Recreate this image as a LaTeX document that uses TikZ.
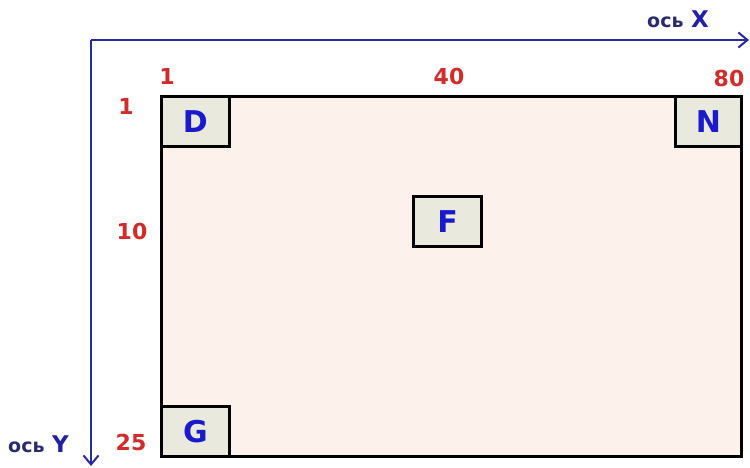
\documentclass[tikz,border=0pt]{standalone}
\usepackage{fontspec}
\setmainfont{DejaVu Sans}
\usetikzlibrary{arrows.meta}
\definecolor{axisblue}{HTML}{2A2AA0}
\definecolor{lbldark}{HTML}{2A2A70}
\definecolor{lblblue}{HTML}{2020A8}
\definecolor{lblred}{HTML}{D42A2A}
\definecolor{letblue}{HTML}{1A1ACC}
\definecolor{fieldfill}{HTML}{FDF1EC}
\definecolor{boxfill}{HTML}{E9E9DE}
\begin{document}
\begin{tikzpicture}[x=1pt,y=-1pt,
  axisline/.style={draw=axisblue,line width=2.8pt,-{Straight Barb[length=9pt,width=15pt,line width=2pt]}},
  cellbox/.style={draw=black,line width=2.8pt,fill=boxfill,inner sep=0pt,minimum width=68pt,minimum height=50pt,font=\bfseries\fontsize{30}{30}\selectfont,text=letblue},
  numlbl/.style={text=lblred,font=\bfseries\fontsize{22}{22}\selectfont,inner sep=0pt},
  axlbl/.style={text=lbldark,inner sep=0pt}]
\useasboundingbox (0,0) rectangle (750,467);
% field
\node[draw=black,line width=2.8pt,fill=fieldfill,minimum width=580pt,minimum height=360pt,inner sep=0pt,anchor=north west] (field) at (160,95) {};
% axes
\coordinate (o) at (91,40);
\coordinate (xend) at (749,40);
\coordinate (yend) at (91,466);
\draw[axisline] (o) -- (xend);
\draw[axisline] (o) -- (yend);
% cells
\node[cellbox,anchor=north west] (D) at (field.north west) {D};
\node[cellbox,anchor=north east,minimum width=66pt] (N) at (field.north east) {N};
\node[cellbox] (F) at (447.5,221.5) {F};
\node[cellbox,anchor=south west] (G) at (field.south west) {G};
% number labels
\node[numlbl] (x1) at (167,76) {1};
\node[numlbl] (x40) at (449,76) {40};
\node[numlbl] (x80) at (729,78) {80};
\node[numlbl] (y1) at (126,106) {1};
\node[numlbl] (y10) at (132,231) {10};
\node[numlbl] (y25) at (131,442) {25};
% axis labels
\node[axlbl,anchor=base west] (xl) at (647,27) {\bfseries\fontsize{19}{19}\selectfont ось};
\node[axlbl,anchor=base west,text=lblblue] (xX) at (691,27) {\bfseries\fontsize{23}{23}\selectfont X};
\node[axlbl,anchor=base west] (yl) at (8,452) {\bfseries\fontsize{19}{19}\selectfont ось};
\node[axlbl,anchor=base west,text=lblblue] (yY) at (52,452) {\bfseries\fontsize{23}{23}\selectfont Y};
\end{tikzpicture}
\end{document}
